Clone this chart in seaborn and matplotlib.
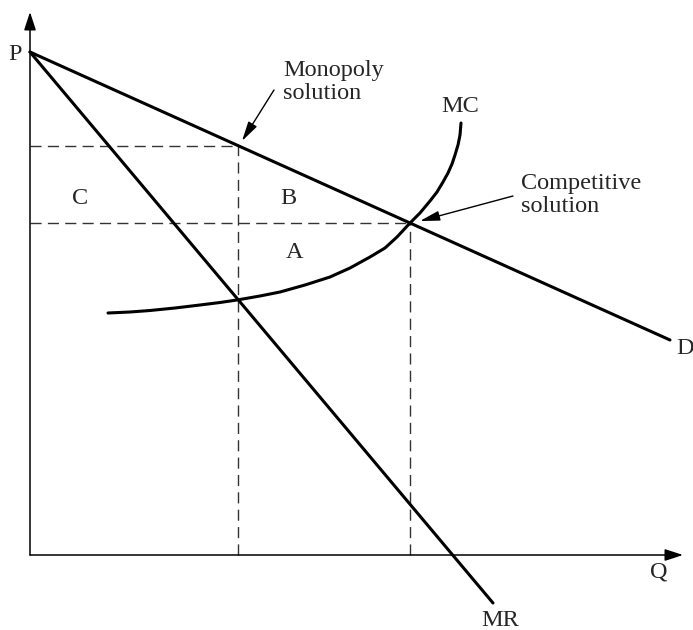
import matplotlib
matplotlib.use("Agg")
import matplotlib.pyplot as plt
import seaborn as sns

# demand, marginal revenue and marginal cost (quantity, price)
demand_q = [0, 640]
demand_p = [503, 215]
mr_q = [0, 463]
mr_p = [503, -48]
mc_q = [78, 100, 120, 145, 170, 190, 207, 230, 250, 275, 300, 320, 340, 355,
        367, 380, 390, 400, 407, 413, 418, 422, 425, 428, 430, 431]
mc_p = [242, 243, 244.5, 247, 250, 252.5, 255, 259, 263, 270, 278, 287, 298, 307,
        318, 332, 342, 354, 363, 373, 382, 391, 400, 410, 420, 432]

# monopoly and competitive solutions
q_mono, p_mono = 208, 409
q_comp, p_comp = 380, 332

area_labels = ["C", "B", "A"]
area_q = [50, 258, 265]
area_p = [357, 357, 302]

sns.set_style("white")
plt.rcParams['font.family'] = ['Liberation Serif', 'DejaVu Serif']

fig = plt.figure(figsize=(6.93, 6.30), dpi=100)
ax = fig.add_axes([0, 0, 1, 1])
ax.set_xlim(-30, 663)
ax.set_ylim(-75, 555)
ax.axis('off')

fs = 17.5
lw = 2.2

# axes with arrows
ax.annotate('', xy=(653, 0), xytext=(0, 0),
            arrowprops=dict(arrowstyle='-|>,head_length=0.55,head_width=0.18',
                            mutation_scale=20, lw=1.1, color='black', shrinkA=0, shrinkB=0))
ax.annotate('', xy=(0, 543), xytext=(0, 0),
            arrowprops=dict(arrowstyle='-|>,head_length=0.55,head_width=0.18',
                            mutation_scale=20, lw=1.1, color='black', shrinkA=0, shrinkB=0))

# dashed guides
dash = dict(color='#333333', lw=1.0, linestyle=(0, (8, 4.5)))
ax.plot([0, q_mono], [p_mono, p_mono], **dash)
ax.plot([0, q_comp], [p_comp, p_comp], **dash)
ax.plot([q_mono, q_mono], [0, p_mono], **dash)
ax.plot([q_comp, q_comp], [0, p_comp], **dash)

# curves
sns.lineplot(x=demand_q, y=demand_p, ax=ax, color='black', lw=lw, sort=False)
sns.lineplot(x=mr_q, y=mr_p, ax=ax, color='black', lw=lw, sort=False)
sns.lineplot(x=mc_q, y=mc_p, ax=ax, color='black', lw=lw, sort=False)

# labels
ax.text(-15, 500, 'P', fontsize=fs, ha='center', va='center')
ax.text(629, -17, 'Q', fontsize=fs, ha='center', va='center')
ax.text(655, 207, 'D', fontsize=fs, ha='center', va='center')
ax.text(470, -65, 'MR', fontsize=fs, ha='center', va='center')
ax.text(430, 448, 'MC', fontsize=fs, ha='center', va='center')
for lab, q, p in zip(area_labels, area_q, area_p):
    ax.text(q, p, lab, fontsize=fs, ha='center', va='center')

ax.text(253, 495, 'Monopoly\nsolution', fontsize=fs, ha='left', va='top', linespacing=1.1)
ax.annotate('', xy=(q_mono + 4, p_mono + 5), xytext=(244, 465),
            arrowprops=dict(arrowstyle='-|>,head_length=0.6,head_width=0.15',
                            mutation_scale=20, lw=1.0, color='black', shrinkA=0, shrinkB=0))
ax.text(491, 382, 'Competitive\nsolution', fontsize=fs, ha='left', va='top', linespacing=1.1)
ax.annotate('', xy=(q_comp + 10, p_comp + 2), xytext=(483, 359),
            arrowprops=dict(arrowstyle='-|>,head_length=0.6,head_width=0.15',
                            mutation_scale=20, lw=1.0, color='black', shrinkA=0, shrinkB=0))

fig.savefig('out.png', dpi=100)
